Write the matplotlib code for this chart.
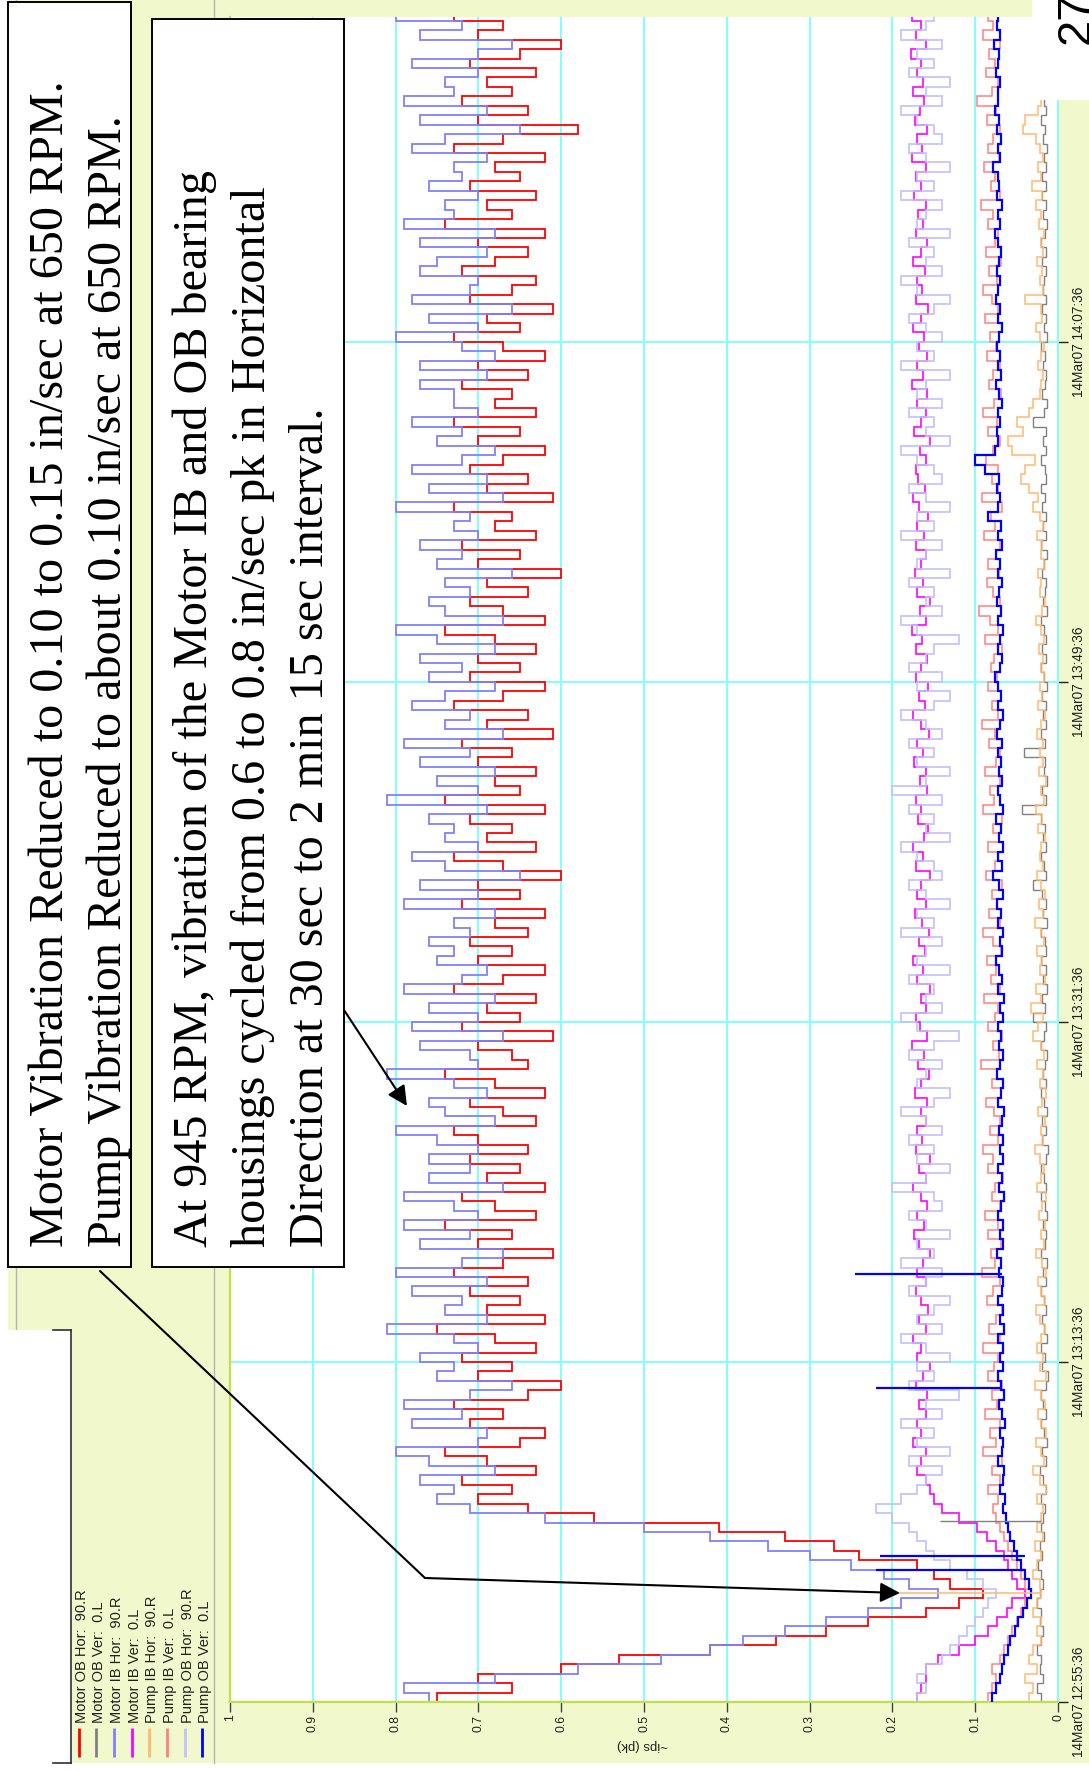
import numpy as np
import matplotlib
matplotlib.use("Agg")
import matplotlib.pyplot as plt
from matplotlib.patches import Rectangle, FancyArrowPatch

# ---------------- data ----------------
DT = 0.5  # minutes between samples, starting 14Mar07 12:55:36
SERIES_NAMES = ["Motor OB Hor:  90.R", "Motor OB Ver:  0.L", "Motor IB Hor:  90.R",
                "Motor IB Ver:  0.L", "Pump IB Hor:  90.R", "Pump IB Ver:  0.L",
                "Pump OB Hor:  90.R", "Pump OB Ver:  0.L"]

motor_ob_hor = [
    .75, .66, .70, .60, .53, .42, .34, .28, .23, .16,
    .12, .09, .13, .15, .17, .24, .27, .33, .41, .56,
    .64, .70, .66, .72, .63, .69, .74, .65, .62, .71,
    .67, .73, .64, .60, .70, .66, .72, .63, .68, .75,
    .62, .69, .65, .71, .64, .73, .67, .61, .70, .66,
    .74, .63, .68, .72, .62, .69, .65, .71, .64, .70,
    .73, .63, .67, .71, .62, .68, .74, .64, .66, .70,
    .61, .72, .65, .69, .63, .73, .67, .62, .70, .66,
    .71, .64, .68, .62, .72, .65, .70, .60, .67, .73,
    .63, .69, .66, .71, .62, .74, .65, .68, .63, .70,
    .66, .72, .61, .69, .64, .73, .67, .62, .71, .65,
    .70, .63, .68, .74, .62, .67, .71, .64, .69, .60,
    .70, .65, .72, .63, .68, .66, .73, .61, .69, .64,
    .71, .67, .62, .70, .65, .73, .63, .68, .66, .72,
    .64, .70, .62, .67, .73, .65, .69, .61, .71, .66,
    .63, .72, .68, .64, .70, .62, .74, .66, .69, .63,
    .71, .65, .68, .62, .73, .67, .58, .70, .64, .72,
    .66, .69, .63, .71, .65, .60, .70, .67, .73, .64]

motor_ob_ver = [
    .020, .025, .018, .022, .020, .025, .020, .018, .022, .020,
    .025, .022, .018, .020, .024, .019, .022, .017, .021, .018,
    .016, .020, .014, .018, .022, .015, .019, .013, .017, .020,
    .014, .018, .021, .015, .012, .019, .016, .020, .013, .017,
    .019, .014, .017, .021, .015, .018, .013, .020, .016, .014,
    .018, .013, .016, .020, .014, .017, .021, .015, .012, .019,
    .015, .019, .013, .017, .020, .014, .018, .016, .013, .020,
    .017, .014, .030, .016, .019, .013, .018, .015, .020, .014,
    .016, .020, .013, .018, .015, .019, .030, .014, .017, .021,
    .014, .018, .016, .020, .043, .015, .019, .013, .017, .016,
    .041, .016, .020, .014, .018, .015, .019, .013, .017, .020,
    .015, .019, .014, .017, .021, .013, .018, .016, .014, .019,
    .017, .013, .020, .015, .018, .014, .019, .016, .021, .014,
    .016, .020, .014, .018, .015, .030, .017, .013, .019, .016,
    .014, .018, .016, .020, .013, .017, .015, .019, .014, .018,
    .017, .014, .019, .015, .020, .016, .013, .018, .015, .019,
    .015, .019, .014, .017, .013, .018, .016, .020, .014, .017,
    .018, .014, .016, .020, .015, .013, .019, .016, .018, .014]

motor_ib_hor = [
    .76, .79, .68, .58, .48, .42, .38, .33, .28, .23,
    .19, .145, .18, .21, .25, .30, .35, .42, .50, .62,
    .71, .75, .73, .77, .68, .76, .80, .70, .69, .78,
    .72, .79, .71, .66, .75, .73, .77, .70, .73, .81,
    .69, .74, .72, .78, .69, .80, .72, .67, .77, .71,
    .79, .70, .73, .79, .67, .76, .71, .76, .70, .75,
    .80, .68, .74, .76, .69, .73, .81, .70, .71, .77,
    .67, .78, .70, .76, .68, .79, .72, .69, .75, .73,
    .76, .71, .73, .68, .79, .70, .77, .65, .74, .78,
    .70, .74, .73, .76, .69, .81, .70, .75, .68, .77,
    .71, .79, .67, .74, .71, .78, .74, .68, .76, .72,
    .77, .68, .75, .80, .67, .74, .76, .71, .74, .66,
    .75, .72, .77, .70, .73, .71, .80, .67, .76, .69,
    .78, .72, .68, .75, .72, .78, .70, .73, .73, .77,
    .69, .77, .68, .72, .80, .70, .76, .66, .78, .71,
    .70, .77, .75, .69, .77, .68, .79, .73, .74, .70,
    .76, .72, .73, .69, .78, .74, .65, .77, .69, .79,
    .73, .74, .70, .78, .70, .66, .77, .72, .80, .69]

motor_ib_ver = [
    .170, .165, .160, .160, .145, .120, .100, .085, .074, .062,
    .055, .040, .050, .055, .060, .065, .075, .086, .098, .120,
    .140, .150, .155, .160, .170, .165, .160, .175, .165, .170,
    .160, .168, .158, .172, .163, .155, .170, .165, .175, .160,
    .168, .157, .165, .172, .160, .170, .163, .155, .168, .174,
    .162, .170, .158, .166, .175, .160, .168, .155, .172, .164,
    .170, .160, .166, .158, .173, .165, .156, .169, .162, .176,
    .158, .167, .172, .160, .165, .154, .170, .163, .175, .161,
    .168, .156, .164, .173, .159, .170, .166, .155, .171, .163,
    .175, .162, .157, .169, .165, .172, .158, .167, .160, .174,
    .163, .170, .156, .166, .175, .161, .168, .157, .172, .165,
    .158, .171, .164, .176, .160, .167, .155, .170, .163, .173,
    .166, .159, .172, .162, .170, .157, .168, .175, .161, .169,
    .172, .160, .167, .155, .174, .165, .160, .170, .158, .176,
    .163, .170, .158, .168, .162, .175, .166, .157, .171, .164,
    .170, .161, .175, .165, .158, .172, .163, .169, .160, .174,
    .166, .172, .160, .176, .164, .170, .158, .173, .167, .162,
    .175, .163, .170, .166, .178, .160, .172, .165, .176, .168]

pump_ib_hor = [
    .035, .030, .040, .025, .035, .030, .020, .025, .020, .030,
    .025, .020, .022, .030, .025, .020, .028, .018, .025, .020,
    .018, .025, .015, .022, .030, .017, .020, .026, .015, .021,
    .024, .016, .020, .028, .015, .022, .018, .025, .020, .016,
    .022, .027, .016, .020, .024, .015, .019, .026, .017, .021,
    .016, .023, .019, .015, .025, .020, .017, .022, .028, .018,
    .021, .016, .024, .019, .015, .022, .018, .025, .017, .020,
    .030, .024, .018, .033, .021, .026, .016, .022, .019, .025,
    .017, .021, .028, .018, .023, .016, .020, .025, .018, .022,
    .020, .016, .024, .019, .027, .017, .021, .015, .023, .018,
    .022, .018, .025, .020, .016, .024, .019, .022, .017, .021,
    .018, .023, .017, .021, .026, .019, .016, .022, .020, .024,
    .017, .021, .019, .025, .018, .022, .030, .024, .035, .045,
    .040, .028, .055, .060, .042, .050, .035, .030, .022, .020,
    .018, .024, .020, .017, .022, .026, .019, .021, .040, .018,
    .022, .019, .025, .018, .021, .017, .023, .020, .026, .019,
    .031, .020, .024, .018, .022, .026, .042, .040, .024, .020,
    .020, .024, .018, .022, .019, .025, .020, .023, .018, .021]

pump_ib_ver = [
    .085, .080, .075, .080, .070, .065, .060, .055, .050, .045,
    .040, .033, .040, .045, .050, .055, .060, .065, .070, .075,
    .078, .072, .085, .070, .080, .068, .090, .075, .082, .070,
    .088, .074, .080, .068, .085, .077, .072, .090, .070, .083,
    .075, .068, .086, .079, .070, .092, .076, .081, .069, .084,
    .073, .088, .070, .080, .076, .067, .085, .078, .090, .072,
    .082, .070, .077, .087, .069, .080, .074, .093, .071, .079,
    .068, .084, .076, .072, .089, .070, .081, .075, .086, .069,
    .078, .091, .070, .083, .074, .080, .068, .087, .076, .072,
    .085, .071, .079, .068, .090, .077, .082, .070, .088, .075,
    .070, .083, .076, .092, .072, .080, .069, .085, .074, .081,
    .077, .068, .088, .073, .082, .095, .070, .079, .086, .071,
    .084, .075, .070, .089, .076, .081, .068, .092, .073, .080,
    .072, .087, .078, .070, .085, .074, .090, .077, .069, .083,
    .079, .070, .086, .075, .082, .068, .088, .072, .080, .091,
    .074, .083, .069, .087, .076, .072, .085, .079, .093, .070,
    .081, .076, .089, .071, .084, .078, .070, .086, .075, .098,
    .080, .072, .087, .076, .083, .070, .090, .078, .085, .074]

pump_ob_hor = [
    .17, .16, .17, .16, .14, .13, .12, .11, .10, .09,
    .085, .075, .09, .11, .13, .15, .16, .17, .18, .20,
    .22, .19, .17, .16, .14, .18, .13, .17, .15, .19,
    .14, .16, .12, .18, .15, .17, .13, .16, .19, .14,
    .17, .15, .13, .18, .16, .14, .19, .15, .17, .13,
    .16, .18, .14, .15, .20, .16, .13, .17, .15, .18,
    .14, .16, .19, .15, .13, .17, .16, .14, .18, .15,
    .12, .17, .19, .14, .16, .15, .18, .13, .17, .16,
    .14, .19, .15, .17, .13, .16, .18, .14, .15, .17,
    .19, .13, .16, .15, .18, .14, .20, .16, .13, .17,
    .15, .18, .14, .16, .19, .15, .13, .17, .14, .18,
    .16, .15, .12, .17, .19, .14, .16, .15, .18, .13,
    .17, .16, .14, .19, .15, .17, .13, .16, .18, .14,
    .15, .17, .19, .13, .16, .15, .18, .14, .17, .16,
    .13, .19, .15, .17, .14, .16, .18, .15, .13, .17,
    .19, .14, .16, .15, .18, .13, .17, .16, .14, .19,
    .15, .17, .13, .16, .18, .14, .15, .17, .19, .14,
    .16, .13, .18, .15, .17, .14, .19, .16, .15, .18]

pump_ob_ver = [
    .080, .075, .070, .068, .065, .060, .058, .052, .048, .042,
    .038, .033, .035, .040, .045, .050, .053, .058, .060, .063,
    .066, .064, .070, .067, .065, .072, .068, .066, .070, .064,
    .068, .071, .065, .069, .073, .066, .070, .067, .072, .065,
    .070, .067, .072, .068, .066, .071, .069, .074, .067, .070,
    .066, .072, .069, .065, .071, .068, .073, .067, .070, .066,
    .071, .068, .065, .072, .069, .067, .074, .070, .066, .071,
    .069, .073, .067, .070, .065, .072, .068, .071, .075, .068,
    .070, .066, .072, .069, .074, .067, .071, .078, .068, .072,
    .067, .071, .069, .075, .066, .070, .073, .068, .071, .069,
    .072, .068, .074, .070, .067, .073, .069, .072, .076, .070,
    .068, .073, .070, .066, .072, .069, .074, .071, .068, .073,
    .070, .075, .068, .072, .069, .085, .072, .070, .074, .071,
    .088, .100, .076, .072, .074, .070, .073, .068, .071, .075,
    .069, .072, .070, .074, .071, .068, .073, .070, .075, .072,
    .070, .074, .071, .069, .073, .076, .070, .072, .068, .074,
    .071, .073, .078, .070, .072, .069, .074, .071, .076, .073,
    .072, .070, .075, .073, .071, .077, .070, .074, .072, .075]

SERIES = [motor_ob_hor, motor_ob_ver, motor_ib_hor, motor_ib_ver,
          pump_ib_hor, pump_ib_ver, pump_ob_hor, pump_ob_ver]

# single-sample spikes: series index, time (min), base value, peak value
SPIKE_SERIES = [7, 7, 7, 7, 4, 1]
SPIKE_TIME = [6.99, 7.73, 16.62, 22.66, 5.75, 9.58]
SPIKE_BASE = [0.040, 0.040, 0.068, 0.068, 0.020, 0.020]
SPIKE_PEAK = [0.220, 0.215, 0.220, 0.245, 0.193, 0.143]

VALUE_TICKS = [1.0, 0.9, 0.8, 0.7, 0.6, 0.5, 0.4, 0.3, 0.2, 0.1, 0.0]
VALUE_LABELS = ["1", "0.9", "0.8", "0.7", "0.6", "0.5", "0.4", "0.3", "0.2", "0.1", "0"]
TIME_TICKS = [0, 18, 36, 54, 72]
TIME_LABELS = ["14Mar07 12:55:36", "14Mar07 13:13:36", "14Mar07 13:31:36",
               "14Mar07 13:49:36", "14Mar07 14:07:36"]
TIME_MAX = 89.2

BOX1_LINES = ["Motor Vibration Reduced to 0.10 to 0.15 in/sec at 650 RPM.",
              "Pump Vibration Reduced to about 0.10 in/sec at 650 RPM."]
BOX2_LINES = ["At 945 RPM, vibration of the Motor IB and OB bearing",
              "housings cycled from 0.6 to 0.8 in/sec pk in Horizontal",
              "Direction at 30 sec to 2 min 15 sec interval."]

# ---------------- style ----------------
COLORS = ["#FF0000", "#808080", "#8080FF", "#FF00FF",
          "#FFB870", "#FF8080", "#C0C0FF", "#0000FF"]
LWS = [1.3, 1.0, 1.3, 1.2, 1.1, 1.1, 1.2, 1.6]
BG = "#F1F9CC"
GRID = "#80FFFF"
FRAME = "#BEE04A"

W, H = 1089, 1771
fig = plt.figure(figsize=(W / 100, H / 100), dpi=100)
fig.patch.set_facecolor("white")

def px_axes(z):
    a = fig.add_axes([0, 0, 1, 1], zorder=z)
    a.set_xlim(0, W)
    a.set_ylim(H, 0)
    a.axis("off")
    a.patch.set_visible(False)
    return a

bg = px_axes(0)
bg.add_patch(Rectangle((8, 0), W - 8, 1763, facecolor=BG, edgecolor="none"))
bg.plot([16, 16], [0, 1330], color="#B4B4B4", lw=1.0)
bg.plot([214, 214], [0, 1763], color="#B4B4B4", lw=1.0)

# main chart (rotated: value on horizontal, time on vertical)
L, R, B, T = 230, 1058, 1702, 17
ax = fig.add_axes([L / W, (H - B) / H, (R - L) / W, (B - T) / H], zorder=1)
ax.set_facecolor("white")
ax.set_xlim(1, 0)
ax.set_ylim(0, TIME_MAX)

for xv in VALUE_TICKS[1:]:
    ax.axvline(xv, color=GRID, lw=1.4, zorder=1)
for tv in TIME_TICKS[1:]:
    ax.axhline(tv, color=GRID, lw=1.4, zorder=1)

for k, vals in enumerate(SERIES):
    edges = np.arange(len(vals) + 1) * DT
    ax.stairs(vals, edges, orientation="horizontal", baseline=None,
              color=COLORS[k], lw=LWS[k], zorder=2 + k * 0.1)
for s, t, b0, pk in zip(SPIKE_SERIES, SPIKE_TIME, SPIKE_BASE, SPIKE_PEAK):
    ax.hlines(t, b0, pk, color=COLORS[s], lw=LWS[s], zorder=3)

ax.set_xticks(VALUE_TICKS)
ax.set_xticklabels(VALUE_LABELS, rotation=90, fontsize=8.8,
                   family="Liberation Sans", color="#202020")
ax.tick_params(axis="x", direction="out", length=7, width=1.0, color="#404040", pad=2)
ax.yaxis.tick_right()
ax.set_yticks(TIME_TICKS)
ax.set_yticklabels(TIME_LABELS, rotation=90, fontsize=9.8,
                   family="Liberation Sans", color="#202020", va="center")
ax.tick_params(axis="y", direction="out", length=7, width=1.0, color="#202020", pad=3)
ax.spines["top"].set_visible(False)
ax.spines["left"].set_color(FRAME)
ax.spines["left"].set_linewidth(1.6)
ax.spines["bottom"].set_color(FRAME)
ax.spines["bottom"].set_linewidth(1.6)
ax.spines["right"].set_color(GRID)
ax.spines["right"].set_linewidth(1.4)

# foreground decorations in pixel coordinates
fg = px_axes(2)
fg.text(643, 1745, "~ips (pk)", rotation=180, ha="center", va="center",
        fontsize=9.5, family="Liberation Sans", color="#202020")

# white cut-out with page number
fg.add_patch(Rectangle((1032, 0), W - 1032, 100, facecolor="white", edgecolor="none"))
fg.text(1089, 44, "27", rotation=90, rotation_mode="anchor", ha="left", va="baseline",
        fontsize=34, family="Liberation Sans", color="black")

# legend block
fg.add_patch(Rectangle((8, 1330), 63, 433, facecolor="white", edgecolor="none"))
fg.plot([71, 71], [1330, 1763], color="#303030", lw=1.2)
fg.plot([53, 71], [1330, 1330], color="#303030", lw=1.2)
fg.plot([53, 71], [1763, 1763], color="#303030", lw=1.2)
for k, name in enumerate(SERIES_NAMES):
    x = 78.5 + 17.7 * k
    fg.plot([x, x], [1728, 1757], color=COLORS[k], lw=2.0, solid_capstyle="butt")
    fg.text(x + 7, 1723, name, rotation=90, rotation_mode="anchor", ha="left",
            va="baseline", fontsize=10.5, family="Liberation Sans", color="#202020")

# annotation boxes
fg.add_patch(Rectangle((8, 2), 123, 1265, facecolor="white", edgecolor="black", lw=1.4))
fg.add_patch(Rectangle((152, 19), 192, 1248, facecolor="white", edgecolor="black", lw=1.4))
for i, line in enumerate(BOX1_LINES):
    fg.text(63 + 58 * i, 1247, line, rotation=90, rotation_mode="anchor", ha="left",
            va="baseline", fontsize=34.7, family="Liberation Serif", color="black")
for i, line in enumerate(BOX2_LINES):
    fg.text(207 + 58 * i, 1247, line, rotation=90, rotation_mode="anchor", ha="left",
            va="baseline", fontsize=34.7, family="Liberation Serif", color="black")

# arrows
fg.add_patch(FancyArrowPatch((344, 1010), (407, 1106),
                             arrowstyle="-|>,head_length=0.6,head_width=0.3",
                             mutation_scale=20, color="black", lw=1.5,
                             shrinkA=0, shrinkB=0))
fg.plot([100, 425], [1271, 1578], color="black", lw=1.5, solid_capstyle="round")
fg.add_patch(FancyArrowPatch((425, 1578), (900, 1593),
                             arrowstyle="-|>,head_length=0.6,head_width=0.3",
                             mutation_scale=20, color="black", lw=1.5,
                             shrinkA=0, shrinkB=0))

fig.savefig("out.png", dpi=100, facecolor=fig.get_facecolor())
